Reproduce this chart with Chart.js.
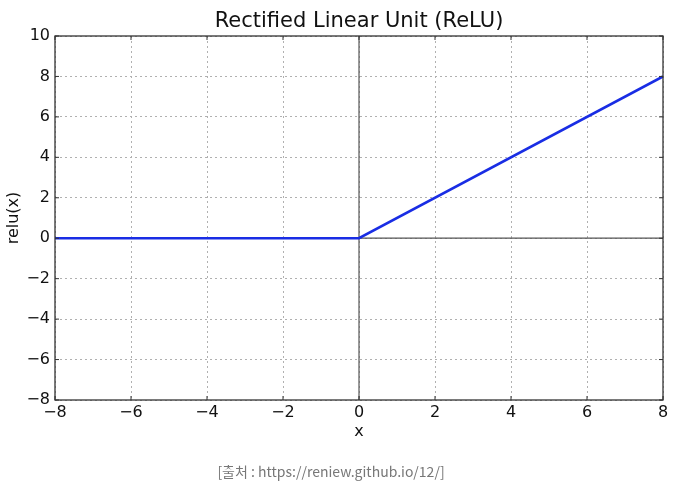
<!DOCTYPE html>
<html>
<head>
<meta charset="utf-8">
<script src="https://cdn.jsdelivr.net/npm/chart.js@4.4.1/dist/chart.umd.min.js"></script>
<style>
  body { margin: 0; background: #fff; }
  #wrap { position: relative; width: 677px; height: 495px; }
  #caption {
    position: absolute; left: 0; width: 662px; top: 461px; text-align: center;
    font-family: "Noto Sans CJK KR", "Open Sans", sans-serif; font-size: 14px; color: #777;
  }
</style>
</head>
<body>
<div id="wrap">
  <canvas id="reluChart" width="677" height="495"></canvas>
  <div id="caption">[출처 : https://reniew.github.io/12/]</div>
</div>
<script>
// data
const xValues = [-8, 0, 8];
const reluValues = [0, 0, 8];
const xTicks = [-8, -6, -4, -2, 0, 2, 4, 6, 8];
const yTicks = [-8, -6, -4, -2, 0, 2, 4, 6, 8, 10];
const chartTitle = 'Rectified Linear Unit (ReLU)';

const font = 'DejaVu Sans';
const minus = (v) => String(v).replace('-', '\u2212');

// title over the plot, box round it, inward ticks
const framePlugin = {
  id: 'frame',
  afterDraw(chart) {
    const ctx = chart.ctx;
    const a = chart.chartArea;
    const xs = chart.scales.x, ys = chart.scales.y;
    ctx.save();
    ctx.strokeStyle = '#333';
    ctx.lineWidth = 1.3;
    ctx.strokeRect(a.left, a.top, a.right - a.left, a.bottom - a.top);
    ctx.lineWidth = 1;
    ctx.beginPath();
    xTicks.forEach(t => {
      const px = xs.getPixelForValue(t);
      ctx.moveTo(px, a.bottom); ctx.lineTo(px, a.bottom - 4);
      ctx.moveTo(px, a.top); ctx.lineTo(px, a.top + 4);
    });
    yTicks.forEach(t => {
      const py = ys.getPixelForValue(t);
      ctx.moveTo(a.left, py); ctx.lineTo(a.left + 4, py);
      ctx.moveTo(a.right, py); ctx.lineTo(a.right - 4, py);
    });
    ctx.stroke();
    ctx.fillStyle = '#111';
    ctx.font = '21px "' + font + '"';
    ctx.textAlign = 'center';
    ctx.textBaseline = 'middle';
    ctx.fillText(chartTitle, (a.left + a.right) / 2, 22);
    ctx.restore();
  }
};

const ctx = document.getElementById('reluChart').getContext('2d');
new Chart(ctx, {
  type: 'scatter',
  data: {
    datasets: [
      {
        label: 'relu',
        data: xValues.map((x, i) => ({ x: x, y: reluValues[i] })),
        showLine: true,
        borderColor: 'rgb(25, 45, 228)',
        borderWidth: 2.6,
        pointRadius: 0,
        order: 0
      },
      {
        label: 'y=0',
        data: [{ x: xTicks[0], y: 0 }, { x: xTicks[xTicks.length - 1], y: 0 }],
        showLine: true,
        borderColor: '#555',
        borderWidth: 1.2,
        pointRadius: 0,
        order: 1
      },
      {
        label: 'x=0',
        data: [{ x: 0, y: yTicks[0] }, { x: 0, y: yTicks[yTicks.length - 1] }],
        showLine: true,
        borderColor: '#555',
        borderWidth: 1.2,
        pointRadius: 0,
        order: 1
      }
    ]
  },
  options: {
    responsive: false,
    animation: false,
    layout: { padding: { top: 36, right: 14, bottom: 50, left: 0 } },
    plugins: {
      legend: { display: false },
      tooltip: { enabled: false }
    },
    scales: {
      x: {
        type: 'linear',
        min: -8, max: 8,
        afterFit: (s) => { s.height = 45; },
        afterBuildTicks: (s) => { s.ticks = xTicks.map(v => ({ value: v })); },
        ticks: {
          padding: 3, color: '#111', maxRotation: 0,
          font: { family: font, size: 16 },
          callback: (v) => minus(v)
        },
        grid: { color: '#b0b0b0', drawTicks: false },
        border: { display: false, dash: [2, 3] },
        title: {
          display: true, text: 'x', color: '#111',
          font: { family: font, size: 16 }, padding: 4
        }
      },
      y: {
        type: 'linear',
        min: -8, max: 10,
        afterFit: (s) => { s.width = 55; },
        afterBuildTicks: (s) => { s.ticks = yTicks.map(v => ({ value: v })); },
        ticks: {
          padding: 5, color: '#111',
          font: { family: font, size: 16 },
          callback: (v) => minus(v)
        },
        grid: { color: '#b0b0b0', drawTicks: false },
        border: { display: false, dash: [2, 3] },
        title: {
          display: true, text: 'relu(x)', color: '#111',
          font: { family: font, size: 16 }, padding: 4
        }
      }
    }
  },
  plugins: [framePlugin]
});
</script>
</body>
</html>
